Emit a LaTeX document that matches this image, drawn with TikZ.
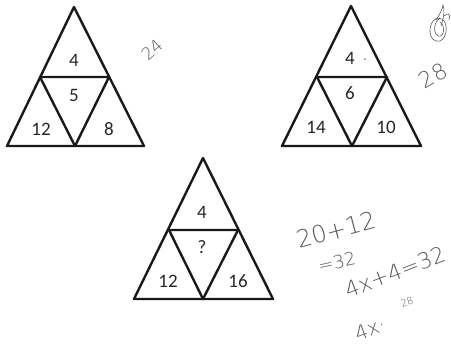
\documentclass[tikz,border=0pt]{standalone}
\usepackage{fontspec}
\setmainfont{Carlito}
\newfontfamily\handfont{DejaVu Sans ExtraLight}
\begin{document}
\begin{tikzpicture}[x=1pt,y=-1pt,
  tri/.style={draw=black!90,line width=2.4pt,line join=round},
  num/.style={font=\fontsize{19}{19}\selectfont,text=black!85,inner sep=0pt},
  hand/.style={font=\handfont\fontsize{#1}{#1}\selectfont,text=black!65,inner sep=0pt},
  hand/.default=18,
  scrib/.style={draw=black!65,line width=0.6pt}]
\useasboundingbox (0,0) rectangle (451,346);
% triangle 1
\coordinate (a1) at (74,7); \coordinate (l1) at (7,146); \coordinate (r1) at (144,146);
\coordinate (ml1) at (40,77); \coordinate (mr1) at (109,77); \coordinate (mb1) at (75,146);
\draw[tri] (a1) -- (r1) -- (l1) -- cycle;
\draw[tri] (ml1) -- (mr1) -- (mb1) -- cycle;
\node[num] (t1a) at (74,60) {4};
\node[num] (t1b) at (74,95) {5};
\node[num] (t1c) at (41,129) {12};
\node[num] (t1d) at (109,129) {8};
% triangle 2
\coordinate (a2) at (351,6); \coordinate (l2) at (282,146); \coordinate (r2) at (421,146);
\coordinate (ml2) at (317,77); \coordinate (mr2) at (387,77); \coordinate (mb2) at (352,146);
\draw[tri] (a2) -- (r2) -- (l2) -- cycle;
\draw[tri] (ml2) -- (mr2) -- (mb2) -- cycle;
\node[num] (t2a) at (350,58) {4};
\fill[black!60] (365,59) circle (0.9pt);
\node[num] (t2b) at (350,93) {6};
\node[num] (t2c) at (316,127) {14};
\node[num] (t2d) at (386,127) {10};
% triangle 3
\coordinate (a3) at (203,158); \coordinate (l3) at (134,299); \coordinate (r3) at (273,299);
\coordinate (ml3) at (169,230); \coordinate (mr3) at (238,230); \coordinate (mb3) at (203,299);
\draw[tri] (a3) -- (r3) -- (l3) -- cycle;
\draw[tri] (ml3) -- (mr3) -- (mb3) -- cycle;
\node[num] (t3a) at (202,212) {4};
\node[num] (t3b) at (202,247) {?};
\node[num] (t3c) at (168,281) {12};
\node[num] (t3d) at (238,281) {16};
% handwritten notes
\node[hand=17,rotate=42] (h24) at (152,50) {24};
\node[hand=22,rotate=30] (h28) at (433,76) {28};
\draw[scrib] (440,18) .. controls (429,17) and (426,38) .. (436,41)
  .. controls (446,44) and (450,24) .. (442,19) .. controls (436,16) and (431,32) .. (438,36)
  .. controls (444,38) and (446,26) .. (440,22);
\draw[scrib] (436,20) .. controls (440,14) and (442,10) .. (443,5)
  .. controls (445,10) and (444,16) .. (441,26);
\draw[scrib] (444,16) .. controls (448,12) and (451,14) .. (449,20);
\node[hand=24,rotate=15] (h1) at (336,230) {20+12};
\node[hand=18,rotate=12] (h2) at (337,262) {=32};
\node[hand=22,rotate=21] (h3) at (395,272) {4x+4=32};
\node[hand=20,rotate=20] (h4) at (370,329) {4x·};
\node[hand=10,rotate=20] (h5) at (407,302) {28};
\end{tikzpicture}
\end{document}
